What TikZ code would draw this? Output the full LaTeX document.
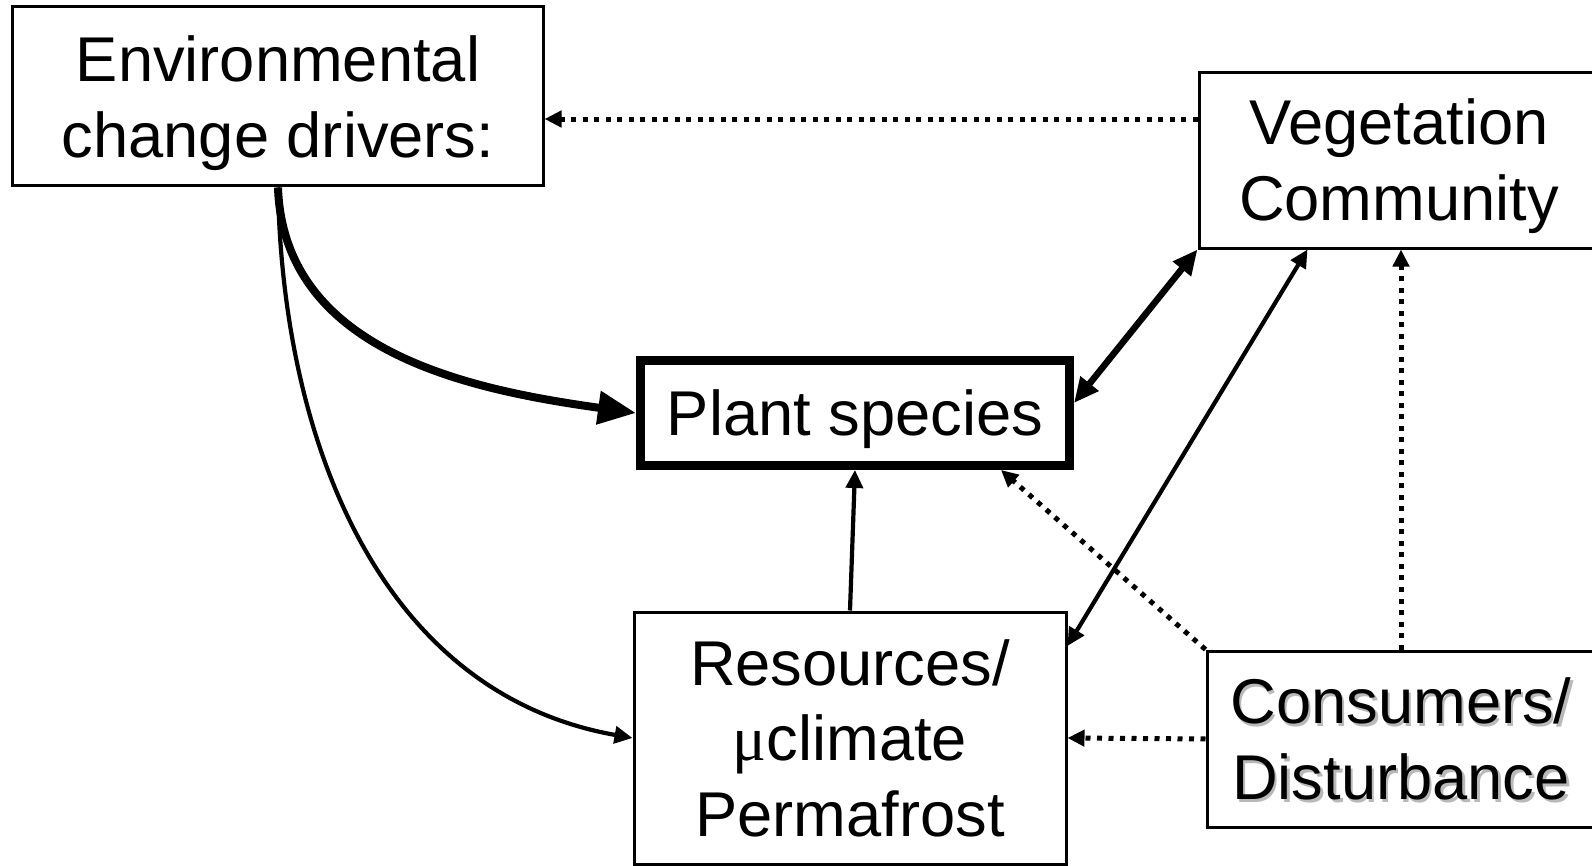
\documentclass[tikz,border=0pt]{standalone}
\usepackage{fontspec}
\setmainfont{Liberation Sans}
\newfontfamily\greekfont{Liberation Serif}
\usetikzlibrary{arrows.meta}

\begin{document}
\begin{tikzpicture}[
	box/.style = {draw, line width = 0.03cm, align = center, inner sep = 0pt, text depth = 0pt, font = \fontsize{18}{21.6}\selectfont},
	lighttip/.tip = {Triangle[length = 0.18cm, width = 0.17cm]},
	heavytip/.tip = {Triangle[length = 0.25cm, width = 0.22cm]},
	lightarrow/.style = {line width = 0.042cm, -lighttip},
	heavyarrow/.style = {line width = 0.08cm, -{Triangle[length = 0.38cm, width = 0.32cm]}},
	dotarrow/.style = {line width = 0.05cm, dash pattern = on 0.05cm off 0.065cm, -{Triangle[length = 0.17cm, width = 0.16cm]}}
]
	\useasboundingbox (0,0) rectangle (15.92,-8.66);

	\node[box, minimum width = 5.30cm, minimum height = 1.79cm] (env) at (2.78,-0.965) {Environmental\\change drivers:};
	\node[box, minimum width = 4.00cm, minimum height = 1.76cm] (veg) at (13.99,-1.60) {Vegetation\\Community};
	\node[box, line width = 0.09cm, minimum width = 4.29cm, minimum height = 1.05cm] (plant) at (8.55,-4.13) {Plant species};
	\node[box, minimum width = 4.32cm, minimum height = 2.52cm] (res) at (8.50,-7.38) {Resources/\\{\greekfont μ}climate\\Permafrost};

	% shadowed text
	\node[box, draw = none, text = gray!55, minimum width = 3.88cm, minimum height = 1.76cm] (consShadow) at (14.035,-7.415) {Consumers/\\Disturbance};
	\node[box, minimum width = 3.88cm, minimum height = 1.76cm] (cons) at (14.01,-7.39) {Consumers/\\Disturbance};

	\draw[heavyarrow] (env.south) to[out = -88, in = 172] (plant.west);
	\draw[lightarrow] (env.south) to[out = -89, in = 170] (res.west);

	\draw[line width = 0.065cm, heavytip-heavytip] ([yshift = 0.1cm]plant.east) -- (veg.south west);
	\draw[lightarrow, lighttip-lighttip] ([xshift = 1.1cm]veg.south west) -- ([yshift = 0.92cm]res.east);
	\draw[lightarrow] (res.north) -- (plant.south);

	\draw[dotarrow] ([yshift = 0.41cm]veg.west) -- ([yshift = 0.41cm]veg.west -| env.east);
	\draw[dotarrow] (cons.north west) -- ([xshift = 1.46cm]plant.south);
	\draw[dotarrow] (cons.north) -- (cons.north |- veg.south);
	\draw[dotarrow] (cons.west) -- (res.east);
\end{tikzpicture}
\end{document}
